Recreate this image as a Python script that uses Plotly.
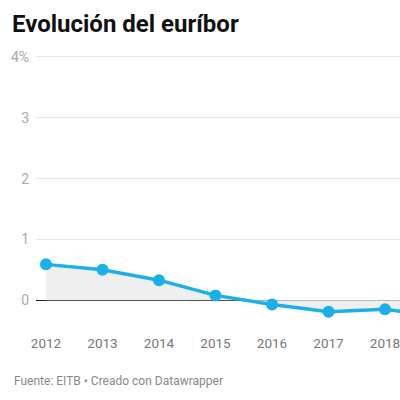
import plotly.graph_objects as go

years = [2012, 2013, 2014, 2015, 2016, 2017, 2018, 2019]
euribor = [0.59, 0.50, 0.33, 0.08, -0.07, -0.19, -0.15, -0.27]
y_ticks = [0, 1, 2, 3, 4]
y_ticklabels = ["0", "1", "2", "3", "4%"]

W, H = 400, 400

fig = go.Figure()
fig.add_trace(go.Scatter(x=years, y=euribor, mode="lines", fill="tozeroy",
                         fillcolor="#efefef", line=dict(width=0, color="rgba(0,0,0,0)"),
                         hoverinfo="skip", showlegend=False))
fig.add_trace(go.Scatter(x=years, y=euribor, mode="lines+markers",
                         line=dict(color="#1cb0e8", width=3.5),
                         marker=dict(size=12, color="#1cb0e8"),
                         showlegend=False, cliponaxis=True))

fig.update_layout(
    width=W, height=H,
    margin=dict(l=36, r=0, t=50, b=75),
    paper_bgcolor="white", plot_bgcolor="white",
    font=dict(family="Roboto", color="#888"),
    title=dict(text="<b>Evolución del euríbor</b>", x=12/W, xref="container", xanchor="left",
               y=1-24/H, yref="container", yanchor="middle",
               font=dict(size=24, color="#111", family="Roboto")),
    xaxis=dict(range=[2011.823, 2018.265], tickvals=years, showgrid=False, zeroline=False,
               showline=False, ticks="outside", ticklen=6, tickcolor="rgba(0,0,0,0)",
               ticklabeloverflow="allow",
               tickfont=dict(size=13.5, color="#777")),
    yaxis=dict(range=[-0.407, 4.115], tickvals=y_ticks, ticktext=y_ticklabels,
               showgrid=True, gridcolor="#e6e6e6", gridwidth=1,
               zeroline=True, zerolinecolor="#222", zerolinewidth=1,
               showline=False, ticks="", ticklabelstandoff=6,
               tickfont=dict(size=14, color="#aaa")),
    annotations=[dict(text="Fuente: EITB • Creado con Datawrapper", xref="paper", yref="paper",
                      x=(12-36)/364, y=(325-381)/275, xanchor="left", yanchor="middle",
                      showarrow=False, font=dict(size=12, color="#888", family="Roboto"))],
)
fig.write_html("out.html", config={"displayModeBar": False},
               post_script="document.body.style.margin='0';"
                           "document.documentElement.style.overflow='hidden';")
